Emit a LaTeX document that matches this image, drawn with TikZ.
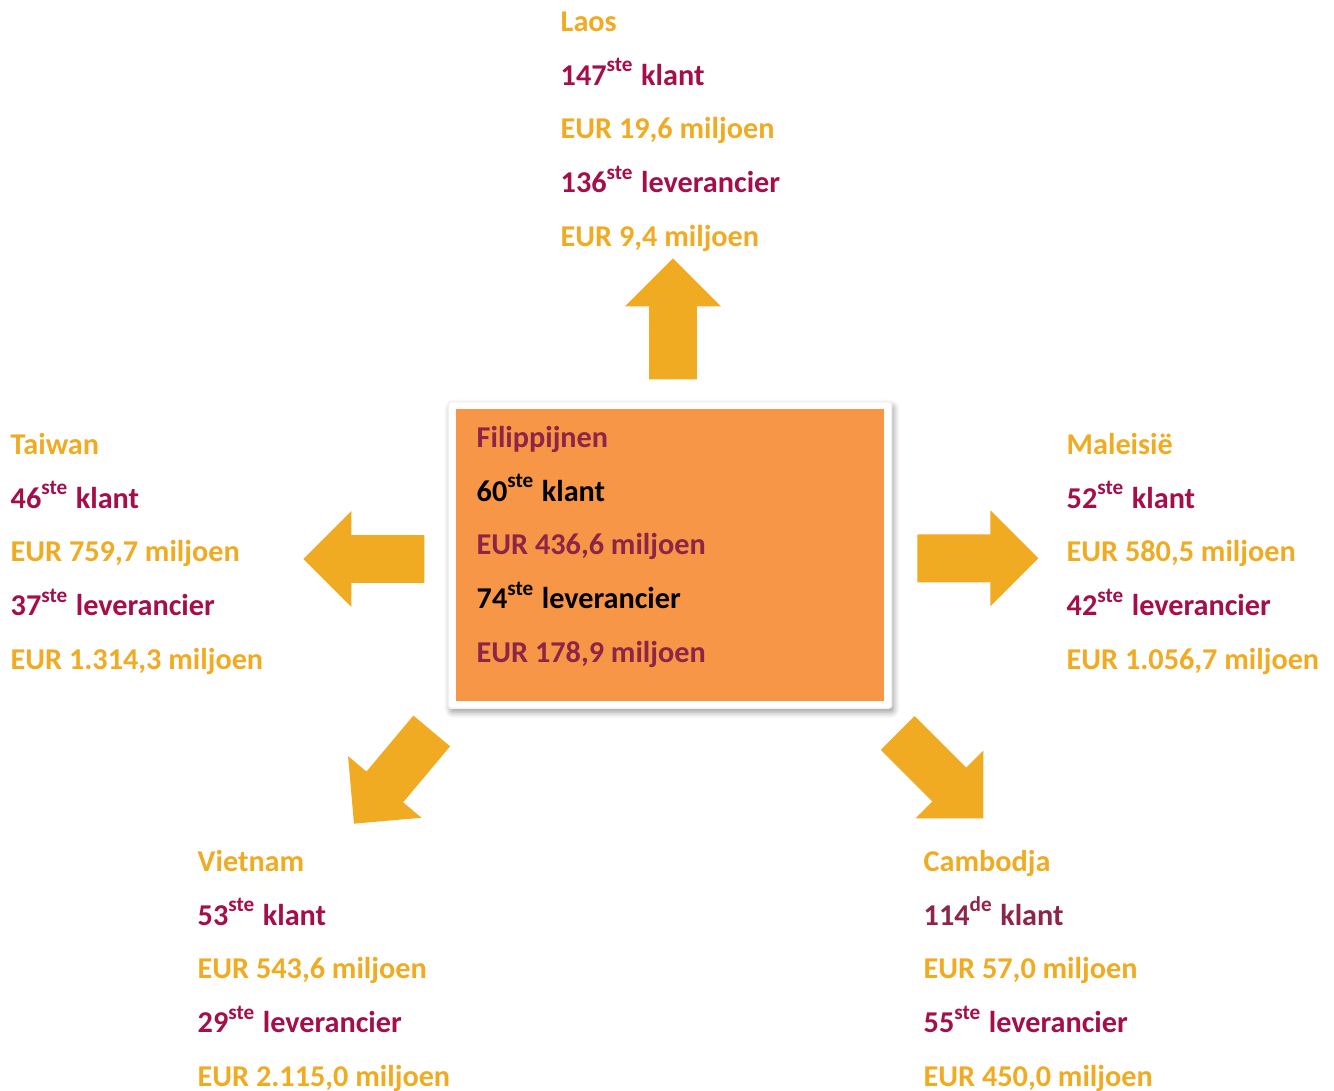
\documentclass[tikz,border=0pt]{standalone}
\usepackage{fontspec}
\setmainfont{Carlito}
\usetikzlibrary{shapes.arrows}
\usetikzlibrary{shadows.blur}
\definecolor{amber}{HTML}{F0AB23}
\definecolor{crimson}{HTML}{A50E4A}
\definecolor{maroon}{HTML}{8E2446}
\definecolor{boxorange}{HTML}{F79646}
% base of a five-line block sits on its last line
\tikzstyle{info}=[anchor=base west, align=left, inner sep=0pt, font=\fontsize{8.6}{15.3}\selectfont\bfseries]
\tikzstyle{bigarrow}=[single arrow, fill=amber, draw=none, anchor=tail, inner xsep=0pt, inner ysep=0.2325cm, minimum height=1.21cm, single arrow head extend=0.24cm, single arrow tip angle=90]

\begin{document}
\begin{tikzpicture}
    \useasboundingbox (0, 0) rectangle (13.34, -10.90);
    % centre box
    \node[fill=white, draw=black!6, rounded corners=0.03cm, minimum width=4.434cm, minimum height=3.066cm,
        blur shadow={shadow xshift=0.02cm, shadow yshift=-0.04cm, shadow blur radius=0.06cm}] (frame) at (6.70, -5.55) {};
    \node[fill=boxorange, minimum width=4.283cm, minimum height=2.92cm] (phil) at (6.6985, -5.55) {};
    \node[info] (philtext) at (4.76, -6.625) {\textcolor{maroon}{Filippijnen}\\
        60\textsuperscript{ste} klant\\
        \textcolor{maroon}{EUR 436,6 miljoen}\\
        74\textsuperscript{ste} leverancier\\
        \textcolor{maroon}{EUR 178,9 miljoen}};
    % arrows
    \node[bigarrow, rotate=90] (tolaos) at (6.73, -3.80) {};
    \node[bigarrow, rotate=180] (totaiwan) at (4.25, -5.59) {};
    \node[bigarrow] (tomaleisie) at (9.167, -5.583) {};
    \node[bigarrow, rotate=230] (tovietnam) at (4.322, -7.304) {};
    \node[bigarrow, rotate=-45] (tocambodja) at (8.972, -7.324) {};
    % countries
    \node[info] (laos) at (5.60, -2.465) {\textcolor{amber}{Laos}\\
        \textcolor{crimson}{147\textsuperscript{ste} klant}\\
        \textcolor{amber}{EUR 19,6 miljoen}\\
        \textcolor{crimson}{136\textsuperscript{ste} leverancier}\\
        \textcolor{amber}{EUR 9,4 miljoen}};
    \node[info] (taiwan) at (0.10, -6.695) {\textcolor{amber}{Taiwan}\\
        \textcolor{crimson}{46\textsuperscript{ste} klant}\\
        \textcolor{amber}{EUR 759,7 miljoen}\\
        \textcolor{crimson}{37\textsuperscript{ste} leverancier}\\
        \textcolor{amber}{EUR 1.314,3 miljoen}};
    \node[info] (maleisie) at (10.66, -6.695) {\textcolor{amber}{Maleisië}\\
        \textcolor{crimson}{52\textsuperscript{ste} klant}\\
        \textcolor{amber}{EUR 580,5 miljoen}\\
        \textcolor{crimson}{42\textsuperscript{ste} leverancier}\\
        \textcolor{amber}{EUR 1.056,7 miljoen}};
    \node[info] (vietnam) at (1.97, -10.865) {\textcolor{amber}{Vietnam}\\
        \textcolor{crimson}{53\textsuperscript{ste} klant}\\
        \textcolor{amber}{EUR 543,6 miljoen}\\
        \textcolor{crimson}{29\textsuperscript{ste} leverancier}\\
        \textcolor{amber}{EUR 2.115,0 miljoen}};
    \node[info] (cambodja) at (9.23, -10.865) {\textcolor{amber}{Cambodja}\\
        \textcolor{maroon}{114\textsuperscript{de} klant}\\
        \textcolor{amber}{EUR 57,0 miljoen}\\
        \textcolor{crimson}{55\textsuperscript{ste} leverancier}\\
        \textcolor{amber}{EUR 450,0 miljoen}};
\end{tikzpicture}
\end{document}
